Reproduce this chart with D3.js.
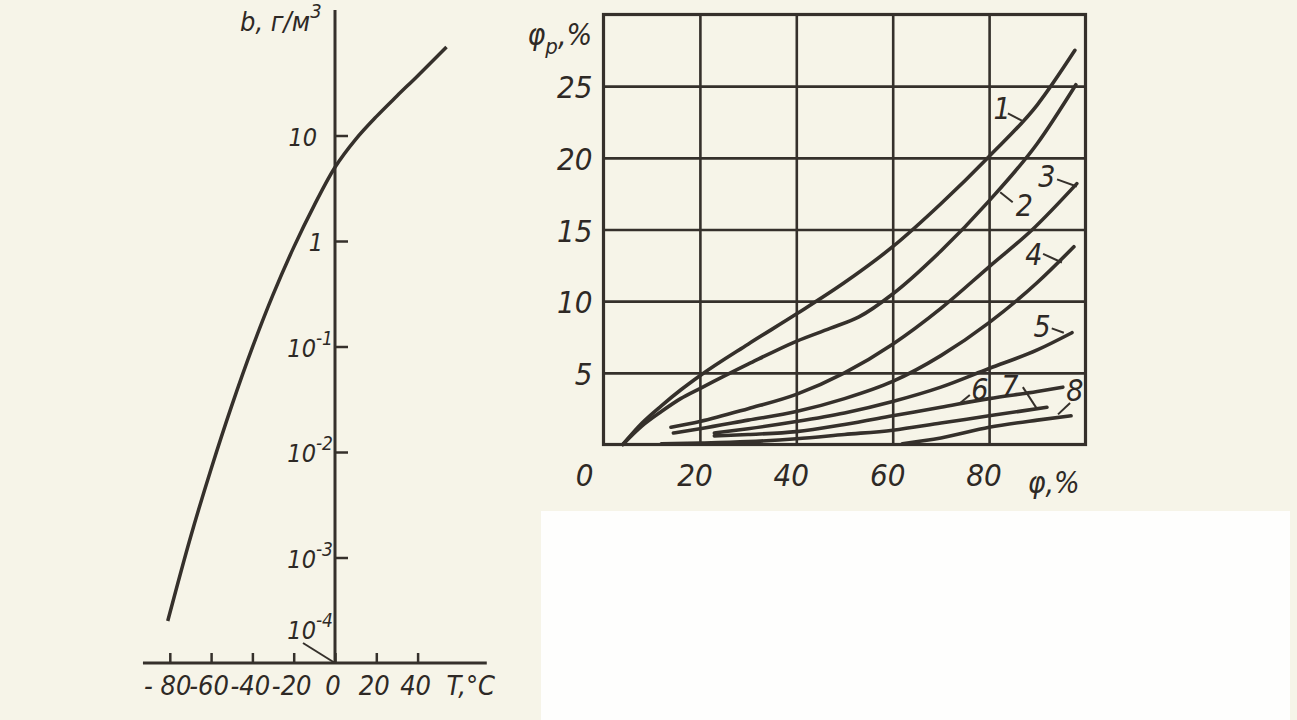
<!DOCTYPE html>
<html><head><meta charset="utf-8">
<script src="https://cdn.jsdelivr.net/npm/d3@7"></script>
<style>
body{margin:0;background:#f6f4e8;}
svg{display:block;}
text{font-family:"Liberation Sans Narrow","DejaVu Sans Condensed","Liberation Sans",sans-serif;font-style:italic;fill:#2e2925;}
</style></head><body>
<svg id="c" width="1297" height="720"></svg>
<script>
// ---------- Left chart: absolute humidity b (g/m3) vs temperature T (°C) ----------
const tempC       = [-81, -70, -60, -50, -40, -30, -20, -10, 0, 10, 20, 30, 40, 54];
const absHumidity = [2.5e-4, 1.55e-3, 6.9e-3, 0.0275, 0.098, 0.31, 0.87, 2.19, 5.0, 9.2, 15.1, 23.7, 36.7, 69];
const leftXTicks = [-80, -60, -40, -20, 0, 20, 40];
const leftXTickLabels = ["- 80", "-60", "-40", "-20", "0", "20", "40"];
const leftYTicks = [10, 1, 0.1, 0.01, 0.001, 0.0001];
const leftYTickBase = ["10", "1", "10", "10", "10", "10"];
const leftYTickExp  = ["", "", "-1", "-2", "-3", "-4"];

// ---------- Right chart: φp (%) vs φ (%) ----------
const phiTicks  = [20, 40, 60, 80];
const phiPTicks = [5, 10, 15, 20, 25];
const curveNames = ["1", "2", "3", "4", "5", "6", "7", "8"];
const curve1 = [[4,0],[8,1.5],[12,2.7],[16,3.8],[20,4.8],[30,7.0],[40,9.1],[50,11.3],[60,13.8],[70,16.8],[80,20.1],[90,23.7],[97.8,27.5]];
const curve2 = [[4,0],[8,1.3],[12,2.3],[16,3.2],[20,3.9],[30,5.6],[40,7.2],[47,8.1],[53,8.9],[60,10.5],[70,13.5],[80,17.0],[90,21.0],[98,25.1]];
const curve3 = [[14,1.2],[20,1.6],[30,2.5],[40,3.5],[50,5.0],[60,7.0],[70,9.5],[80,12.4],[89,15.0],[98.2,18.2]];
const curve4 = [[14.5,0.8],[20,1.1],[30,1.7],[40,2.3],[50,3.2],[60,4.4],[70,6.2],[80,8.5],[90,11.3],[97.6,13.8]];
const curve5 = [[23,0.8],[30,1.1],[40,1.6],[50,2.2],[60,3.0],[70,4.0],[80,5.3],[90,6.6],[97.2,7.8]];
const curve6 = [[23,0.6],[30,0.7],[40,0.9],[50,1.4],[60,2.0],[70,2.6],[80,3.2],[90,3.7],[95.3,4.0]];
const curve7 = [[12,0.05],[20,0.1],[30,0.2],[40,0.4],[50,0.7],[60,1.0],[70,1.5],[80,2.0],[92,2.6]];
const curve8 = [[62,0.05],[70,0.45],[80,1.2],[90,1.7],[97,2.0]];
const curves = [curve1, curve2, curve3, curve4, curve5, curve6, curve7, curve8];
// label anchor (text position) and leader segment, in data units
const labelText   = [[82.7,23.5],[87.3,16.7],[92.0,18.7],[89.3,13.3],[91.0,8.3],[78.1,3.9],[84.3,4.1],[97.8,3.8]];
const leaderStart = [[83.9,23.1],[84.9,16.9],[94.1,18.5],[91.2,13.3],[93.0,8.1],[76.0,3.45],[87.0,4.0],[96.8,2.9]];
const leaderEnd   = [[86.8,22.6],[82.3,17.6],[98.2,18.0],[95.1,12.7],[95.5,7.8],[74.0,2.9],[89.9,2.5],[94.3,2.1]];

const ink = "#35302b";
const svg = d3.select("#c");

// white patch of the scan
svg.append("rect").attr("x",541).attr("y",511).attr("width",749).attr("height",209).attr("fill","#fefefd");

// ===== Left chart =====
const xL = d3.scaleLinear().domain([-80, 40]).range([169.8, 417.6]);
const yL = d3.scaleLog().domain([1e-4, 10]).range([663, 135.5]);
const L = svg.append("g");
const xExt = [-93, 73.5], yTop = 155;

L.append("line").attr("x1", xL(xExt[0])).attr("x2", xL(xExt[1])).attr("y1", yL(1e-4)).attr("y2", yL(1e-4))
  .attr("stroke", ink).attr("stroke-width", 3);
L.append("line").attr("x1", xL(0)).attr("x2", xL(0)).attr("y1", yL(1e-4)).attr("y2", yL(yTop))
  .attr("stroke", ink).attr("stroke-width", 3);

const axB = L.append("g").attr("transform", `translate(0,${yL(1e-4)})`)
  .call(d3.axisBottom(xL).tickValues(leftXTicks).tickSize(-10).tickSizeOuter(0).tickFormat(""));
axB.select(".domain").remove();
axB.selectAll("line").attr("stroke", ink).attr("stroke-width", 2.5);

const axR = L.append("g").attr("transform", `translate(${xL(0)},0)`)
  .call(d3.axisRight(yL).tickValues(leftYTicks.slice(0,5)).tickSize(13).tickSizeOuter(0).tickFormat(""));
axR.select(".domain").remove();
axR.selectAll("line").attr("stroke", ink).attr("stroke-width", 2.5);

L.selectAll("text.xl").data(leftXTicks).join("text").attr("class","xl")
  .attr("x", d => xL(d) - 2).attr("y", yL(1e-4) + 32).attr("text-anchor","middle")
  .attr("font-size", 27).text((d,i) => leftXTickLabels[i]);
L.append("text").attr("x", xL(40) + 29).attr("y", yL(1e-4) + 32).attr("font-size", 27).text("T,°C");

leftYTicks.forEach((v, i) => {
  const hasExp = leftYTickExp[i] !== "";
  const y = i === 5 ? yL(v) - 24 : yL(v) + 10;
  const t = L.append("text").attr("y", y).attr("font-size", 25)
    .attr("text-anchor", "end").attr("x", hasExp ? xL(0) - 2 : xL(0) - (i === 0 ? 18 : 12));
  t.append("tspan").text(leftYTickBase[i]);
  if (hasExp) t.append("tspan").attr("dy", -12).attr("font-size", 19).text(leftYTickExp[i]);
});
// leader for 10^-4 to origin
L.append("line").attr("x1", xL(0) - 32).attr("y1", yL(1e-4) - 20).attr("x2", xL(0)).attr("y2", yL(1e-4))
  .attr("stroke", ink).attr("stroke-width", 2);
const yLab = L.append("text").attr("x", xL(0) - 95).attr("y", 31).attr("font-size", 27);
yLab.append("tspan").text("b, г/м");
yLab.append("tspan").attr("dy", -13).attr("font-size", 20).text("3");

const leftLine = d3.line().x((d,i) => xL(tempC[i])).y((d,i) => yL(absHumidity[i])).curve(d3.curveCatmullRom.alpha(0.5));
L.append("path").attr("d", leftLine(tempC)).attr("fill","none").attr("stroke", ink).attr("stroke-width", 3.5);

// ===== Right chart =====
const xR = d3.scaleLinear().domain([0, 100]).range([603.5, 1085.5]);
const yR = d3.scaleLinear().domain([0, 30]).range([444.5, 14.5]);
const R = svg.append("g");

const gx = R.append("g").attr("transform", `translate(0,${yR(0)})`)
  .call(d3.axisBottom(xR).tickValues(phiTicks).tickSize(-(yR(0) - yR(30))).tickSizeOuter(0).tickFormat(""));
gx.select(".domain").remove();
gx.selectAll("line").attr("stroke", ink).attr("stroke-width", 2.6);
const gy = R.append("g").attr("transform", `translate(${xR(0)},0)`)
  .call(d3.axisLeft(yR).tickValues(phiPTicks).tickSize(-(xR(100) - xR(0))).tickSizeOuter(0).tickFormat(""));
gy.select(".domain").remove();
gy.selectAll("line").attr("stroke", ink).attr("stroke-width", 2.6);
R.append("rect").attr("x", xR(0)).attr("y", yR(30)).attr("width", xR(100) - xR(0)).attr("height", yR(0) - yR(30))
  .attr("fill", "none").attr("stroke", ink).attr("stroke-width", 3.2);

R.selectAll("text.xr").data(phiTicks).join("text").attr("class","xr")
  .attr("x", d => xR(d) - 5).attr("y", yR(0) + 41).attr("text-anchor","middle").attr("font-size", 31).text(d => d);
R.append("text").attr("x", xR(0) - 19).attr("y", yR(0) + 41).attr("text-anchor","middle").attr("font-size", 31).text("0");
R.selectAll("text.yr").data(phiPTicks).join("text").attr("class","yr")
  .attr("x", xR(0) - 11).attr("y", d => yR(d) + 12).attr("text-anchor","end").attr("font-size", 31).text(d => d);
const xt = R.append("text").attr("x", xR(88)).attr("y", yR(0) + 48).attr("font-size", 30);
xt.text("φ,%");
const yt = R.append("text").attr("x", xR(0) - 76).attr("y", 45).attr("font-size", 30);
yt.append("tspan").text("φ");
yt.append("tspan").attr("dy", 9).attr("font-size", 22).text("p");
yt.append("tspan").attr("dy", -9).text(",%");

const rLine = d3.line().x(d => xR(d[0])).y(d => yR(d[1])).curve(d3.curveMonotoneX);
R.selectAll("path.cv").data(curves).join("path").attr("class","cv")
  .attr("d", rLine).attr("fill","none").attr("stroke", ink).attr("stroke-width", 3.6).attr("stroke-linecap","round");

R.selectAll("line.ld").data(curveNames).join("line").attr("class","ld")
  .attr("x1", (d,i) => xR(leaderStart[i][0])).attr("y1", (d,i) => yR(leaderStart[i][1]))
  .attr("x2", (d,i) => xR(leaderEnd[i][0])).attr("y2", (d,i) => yR(leaderEnd[i][1]))
  .attr("stroke", ink).attr("stroke-width", 2);
R.selectAll("text.cl").data(curveNames).join("text").attr("class","cl")
  .attr("x", (d,i) => xR(labelText[i][0])).attr("y", (d,i) => yR(labelText[i][1]) + 11)
  .attr("text-anchor","middle").attr("font-size", 30).text(d => d);
</script>
</body></html>
